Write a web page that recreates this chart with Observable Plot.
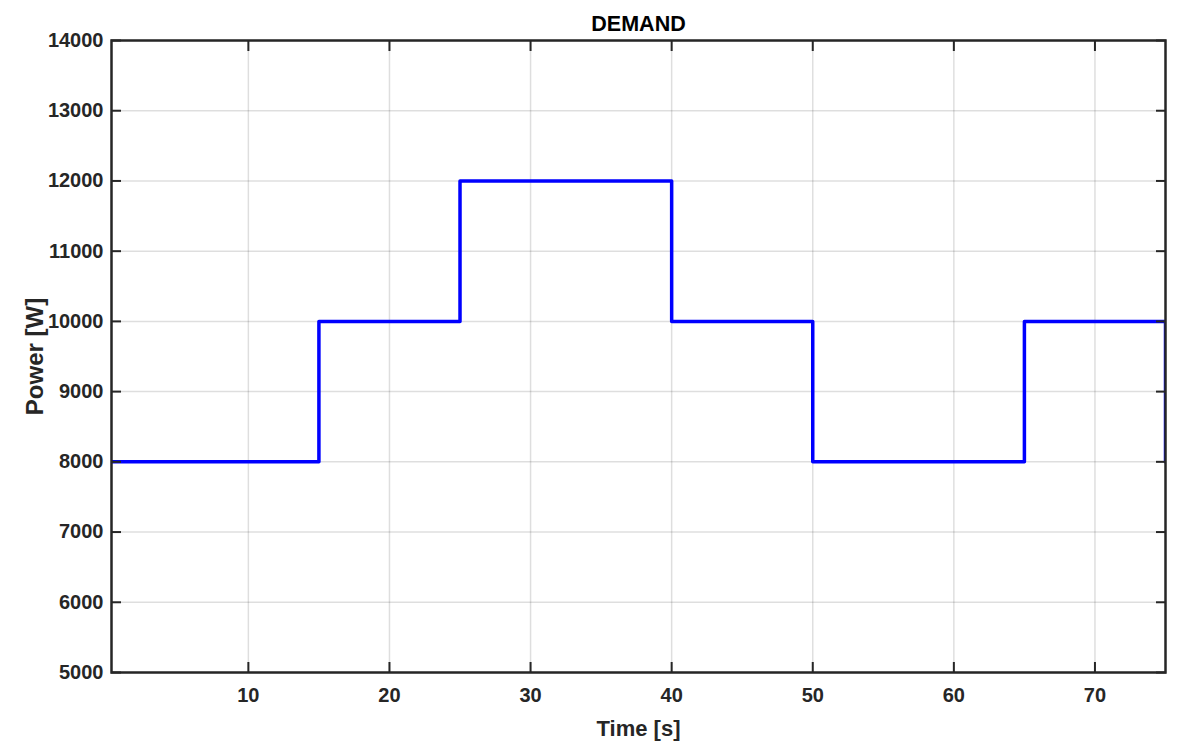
<!DOCTYPE html>
<html>
<head>
<meta charset="utf-8">
<script src="https://cdn.jsdelivr.net/npm/d3@7"></script>
<script src="https://cdn.jsdelivr.net/npm/@observablehq/plot@0.6"></script>
<style>
  html, body { margin: 0; padding: 0; background: #fff; }
</style>
</head>
<body>
<div id="chart"></div>
<script>
const times = [0, 15, 25, 40, 50, 65, 75];
const power = [8000, 10000, 12000, 10000, 8000, 10000, 8000];
const xTicks = [10, 20, 30, 40, 50, 60, 70];
const yTicks = [5000, 6000, 7000, 8000, 9000, 10000, 11000, 12000, 13000, 14000];
const xDomain = [0.3, 75];
const yDomain = [5000, 14000];
const title = "DEMAND";
const xLabel = "Time [s]";
const yLabel = "Power [W]";

const data = times.map((t, i) => ({t, p: power[i]}));
const ink = "#262626";
const font = "'Liberation Sans', Arial, Helvetica, sans-serif";

const chart = Plot.plot({
  width: 1179,
  height: 746,
  marginLeft: 111,
  marginRight: 14,
  marginTop: 40,
  marginBottom: 74,
  style: {fontFamily: font, fontWeight: "bold", color: ink, background: "#fff"},
  x: {domain: xDomain, label: null},
  y: {domain: yDomain, label: null},
  marks: [
    Plot.gridX(xTicks, {stroke: "#000", strokeOpacity: 0.13, strokeWidth: 1.5}),
    Plot.gridY(yTicks, {stroke: "#000", strokeOpacity: 0.13, strokeWidth: 1.5}),
    Plot.line(data, {x: "t", y: "p", curve: "step-after", stroke: "#0000ff", strokeWidth: 3.5, clip: true}),
    // inward ticks
    Plot.axisX(xTicks, {anchor: "bottom", tickSize: 10, dy: -10, text: null, stroke: ink, strokeWidth: 2}),
    Plot.axisX(xTicks, {anchor: "top", tickSize: 10, dy: 10, text: null, stroke: ink, strokeWidth: 2}),
    Plot.axisY(yTicks, {anchor: "left", tickSize: 10, dx: 10, text: null, stroke: ink, strokeWidth: 2}),
    Plot.axisY(yTicks, {anchor: "right", tickSize: 10, dx: -10, text: null, stroke: ink, strokeWidth: 2}),
    // tick labels
    Plot.axisX(xTicks, {anchor: "bottom", tickSize: 0, tickPadding: 15, fontSize: 20, fontWeight: "bold", fill: ink, label: null}),
    Plot.axisY(yTicks, {anchor: "left", tickSize: 0, tickPadding: 8, fontSize: 20, fontWeight: "bold", fill: ink, label: null, tickFormat: d => String(d)}),
    Plot.frame({stroke: ink, strokeWidth: 2.5}),
    Plot.text([title], {frameAnchor: "top", lineAnchor: "bottom", dy: -10, fontSize: 21.5, fontWeight: "bold", fill: "#000"}),
    Plot.text([xLabel], {frameAnchor: "bottom", lineAnchor: "bottom", dy: 63, fontSize: 22, fontWeight: "bold", fill: ink}),
    Plot.text([yLabel], {frameAnchor: "left", textAnchor: "middle", lineAnchor: "middle", rotate: -90, dx: -76, fontSize: 24, fontWeight: "bold", fill: ink})
  ]
});
document.getElementById("chart").appendChild(chart);
</script>
</body>
</html>
